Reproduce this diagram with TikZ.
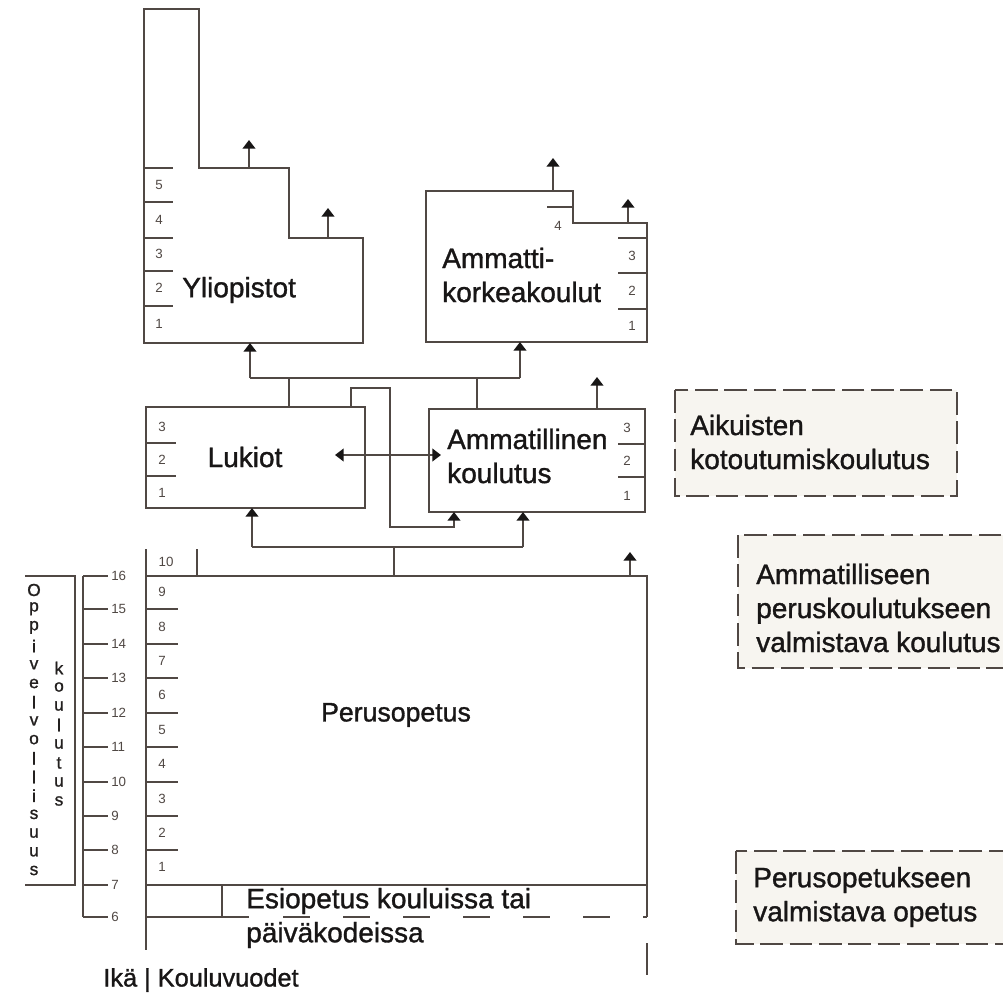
\documentclass[tikz,border=0pt]{standalone}
\usepackage{fontspec}
\setmainfont{Liberation Sans}
\newfontfamily\labfont{Liberation Sans}[FakeBold=1.2]
\usepackage{tikz}
\usetikzlibrary{arrows.meta}
\usetikzlibrary{positioning}
\usepackage{xcolor}
\definecolor{linecol}{RGB}{80,72,68}
\definecolor{notefill}{RGB}{247,245,240}
\definecolor{textcol}{RGB}{24,22,22}

\begin{document}
\begin{tikzpicture}[x=0.75pt,y=-0.75pt]
		\tikzstyle{wall} = [draw=linecol, line width=1.5pt]
		\tikzstyle{arr} = [wall, -{Triangle[width=9.5pt,length=6.5pt,color=textcol]}]
		\tikzstyle{darr} = [wall, {Triangle[width=9.5pt,length=6.5pt,color=textcol]}-{Triangle[width=9.5pt,length=6.5pt,color=textcol]}]
		\tikzstyle{note} = [draw=linecol, line width=1.5pt, fill=notefill, dash pattern=on 17pt off 5pt]
		\tikzstyle{lab} = [inner sep=0, text=textcol, font=\labfont\fontsize{21}{25.5}\selectfont]
		\tikzstyle{num} = [inner sep=0, text=linecol, font=\fontsize{10}{10}\selectfont]
		\tikzstyle{vlet} = [inner sep=0, text=textcol!80!linecol, font=\labfont\fontsize{13}{13}\selectfont]

		\useasboundingbox[fill=white] (0,0) rectangle (1003,995);
		\clip (0,0) rectangle (1003,995);

		% Yliopistot
		\draw[wall] (144,9) -- (199,9) -- (199,168) -- (289,168) -- (289,238) -- (363,238) -- (363,343) -- (144,343) -- cycle;
		\foreach \y in {168,202,238,271,306} \draw[wall] (144,\y) -- (173,\y);
		\foreach \y/\n in {185/5,220/4,254/3,288/2,324/1} \node (yo\n) [num] at (159,\y) {\n};
		\node (yo) [lab, right] at (182,290) {Yliopistot};
		\coordinate (yoB) at (250,343);
		\coordinate (yoS1) at (249,168);
		\coordinate (yoS2) at (328,238);
		\coordinate (yoX1) at (249,140);
		\coordinate (yoX2) at (328,208);
		\draw[arr] (yoS1) -- (yoX1);
		\draw[arr] (yoS2) -- (yoX2);

		% Ammattikorkeakoulut
		\draw[wall] (426,191) -- (573,191) -- (573,223) -- (647,223) -- (647,342) -- (426,342) -- cycle;
		\draw[wall] (547,207) -- (573,207);
		\node (amk4) [num] at (558,226) {4};
		\foreach \y in {238,273,309} \draw[wall] (618,\y) -- (647,\y);
		\foreach \y/\n in {256/3,291/2,326/1} \node (amk\n) [num] at (632,\y) {\n};
		\node (amk) [lab, right, align=left] at (442,275) {Ammatti-\\korkeakoulut};
		\coordinate (amkB) at (520,342);
		\coordinate (amkS1) at (553,191);
		\coordinate (amkS2) at (628,223);
		\coordinate (amkX1) at (553,158);
		\coordinate (amkX2) at (628,199);
		\draw[arr] (amkS1) -- (amkX1);
		\draw[arr] (amkS2) -- (amkX2);

		% Lukiot
		\draw[wall] (146,407) rectangle (365,508);
		\foreach \y in {443,476} \draw[wall] (146,\y) -- (176,\y);
		\foreach \y/\n in {427/3,460/2,493/1} \node (lu\n) [num] at (162,\y) {\n};
		\node (lu) [lab] at (245,457) {Lukiot};

		% Ammatillinen koulutus
		\draw[wall] (429,409) rectangle (645,512);
		\foreach \y in {444,477} \draw[wall] (618,\y) -- (645,\y);
		\foreach \y/\n in {428/3,461/2,496/1} \node (am\n) [num] at (627,\y) {\n};
		\node (am) [lab, right, align=left] at (447,456) {Ammatillinen\\koulutus};
		\coordinate (amS) at (597,409);
		\coordinate (amX) at (597,377);
		\draw[arr] (amS) -- (amX);

		% connections upwards
		\coordinate (busL) at (250,378);
		\coordinate (busR) at (520,378);
		\coordinate (luT) at (289,407);
		\coordinate (amT) at (477,409);
		\draw[wall] (busL) -- (busR);
		\draw[wall] (luT) -- (luT |- busL);
		\draw[wall] (amT) -- (amT |- busL);
		\draw[arr] (busL) -- (yoB);
		\draw[arr] (busR) -- (amkB);

		\coordinate (luT2) at (351,407);
		\coordinate (amB2) at (454,512);
		\draw[arr] (luT2) |- (390,388) |- (454,527) -- (amB2);

		\coordinate (luIn) at (335,455);
		\coordinate (amIn) at (441,455);
		\draw[darr] (luIn) -- (amIn);

		% Perusopetus
		\draw[wall] (146,549) -- (146,950);
		\draw[wall] (146,576) -- (647,576) -- (647,917);
		\draw[wall] (146,885) -- (647,885);
		\draw[wall] (197,549) -- (197,576);
		\node (pe10) [num] at (166,562) {10};
		\foreach \y in {609,644,678,713,747,782,816,850} \draw[wall] (146,\y) -- (178,\y);
		\foreach \y/\n in {592/9,627/8,661/7,695/6,730/5,764/4,799/3,833/2,867/1} \node (pe\n) [num] at (162,\y) {\n};
		\node (pe) [lab, font=\labfont\fontsize{20}{24}\selectfont] at (396,715) {Perusopetus};
		\coordinate (peT) at (394,576);
		\coordinate (bus2L) at (252,547);
		\coordinate (bus2R) at (523,547);
		\coordinate (luB) at (252,508);
		\coordinate (amB) at (523,512);
		\draw[wall] (peT) -- (peT |- bus2L);
		\draw[wall] (bus2L) -- (bus2R);
		\draw[arr] (bus2L) -- (luB);
		\draw[arr] (bus2R) -- (amB);
		\coordinate (peS) at (630,576);
		\coordinate (peX) at (630,552);
		\draw[arr] (peS) -- (peX);

		% Esiopetus
		\draw[wall] (222,885) -- (222,917);
		\draw[wall] (146,917) -- (249,917);
		\draw[wall, dash pattern=on 20pt off 25pt] (283,917) -- (647,917);
		\draw[wall] (647,943) -- (647,975);
		\node (esi) [lab, right, align=left] at (246,918) {Esiopetus kouluissa tai\\päiväkodeissa};
		\node (iku) [lab, font=\labfont\fontsize{19}{23}\selectfont] at (201,980) {Ikä | Kouluvuodet};

		% ika
		\draw[wall] (83,576) -- (83,917);
		\foreach \y/\n in {576/16,609/15,644/14,678/13,713/12,747/11,782/10,816/9,850/8,885/7,917/6} {
			\draw[wall] (83,\y) -- (108,\y);
			\node (ika\n) [num, right] at (111,\y) {\n};
		}
		\draw[wall] (25,576) -- (75,576) -- (75,885) -- (25,885);
		\foreach \l [count=\i from 0] in {O,p,p,i,v,e,l,v,o,l,l,i,s,u,u,s} \node (ov\i) [vlet] at (34,590+18.7*\i) {\l};
		\foreach \l [count=\i from 0] in {k,o,u,l,u,t,u,s} \node (kl\i) [vlet] at (59,668+19*\i) {\l};

		% notes
		\draw[note] (675,390) rectangle (957,496);
		\node (aik) [lab, right, align=left] at (690,442) {Aikuisten\\kotoutumiskoulutus};
		\draw[note] (738,535) rectangle (1030,668);
		\node (amv) [lab, right, align=left] at (756,608) {Ammatilliseen\\peruskoulutukseen\\valmistava koulutus};
		\draw[note] (736,851) rectangle (1030,944);
		\node (pev) [lab, right, align=left] at (753,897) {Perusopetukseen\\valmistava opetus};

		\end{tikzpicture}
\end{document}
